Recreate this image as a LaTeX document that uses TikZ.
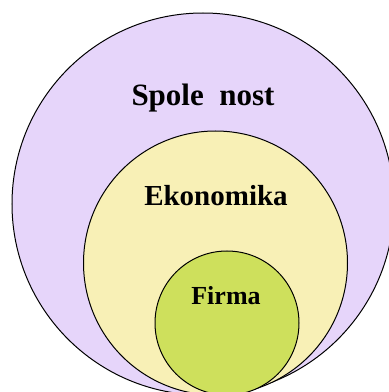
\documentclass[tikz,border=0pt]{standalone}
\usepackage{fontspec}
\setmainfont{Liberation Serif}
\usetikzlibrary{positioning}
\definecolor{spolfill}{RGB}{230,213,250}
\definecolor{ekofill}{RGB}{248,240,182}
\definecolor{firmfill}{RGB}{206,224,92}

\begin{document}
\begin{tikzpicture}[x=1pt, y=1pt,
    kruh/.style={circle, draw=black, line width=1pt, inner sep=0pt},
    popis/.style={font=\bfseries, anchor=base}]

   \useasboundingbox (0,0) rectangle (389,392);
   \fill[white] (0,0) rectangle (389,392);
   \clip (0,0) rectangle (389,392);

   \node[kruh, fill=spolfill, minimum size=382pt] (spol) at (203,188) {};
   \node[kruh, fill=ekofill, minimum size=264pt] (eko) at (215.5,129) {};
   \node[kruh, fill=firmfill, minimum size=144pt] (firm) at (227,69) {};

   \node[popis, font=\fontsize{31}{31}\bfseries\selectfont] (tspol) at (203,286) {Spole\enspace nost};
   \node[popis, font=\fontsize{29}{29}\bfseries\selectfont] (teko) at (216,186) {Ekonomika};
   \node[popis, font=\fontsize{26}{26}\bfseries\selectfont] (tfirm) at (226,87) {Firma};
\end{tikzpicture}
\end{document}
